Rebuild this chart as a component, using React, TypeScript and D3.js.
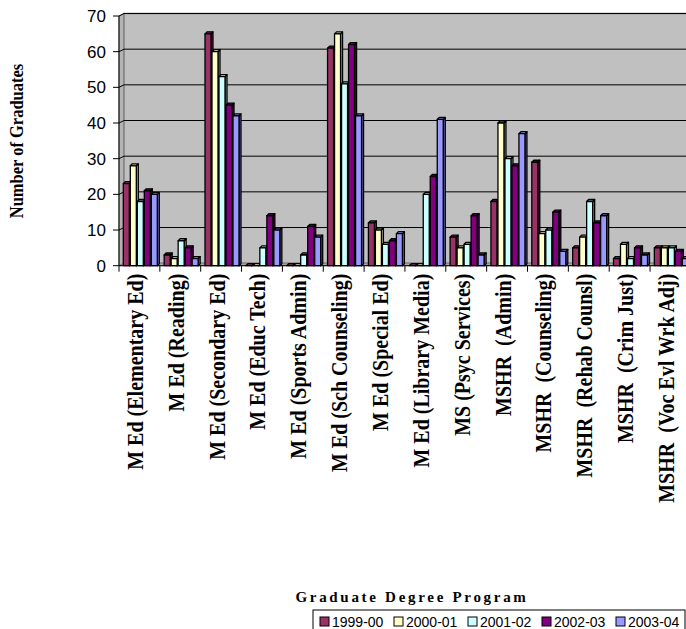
import React from 'react';
import * as d3 from 'd3';

const programs = [
  'M Ed (Elementary Ed)', 'M Ed (Reading)', 'M Ed (Secondary Ed)', 'M Ed (Educ Tech)',
  'M Ed (Sports Admin)', 'M Ed (Sch Counseling)', 'M Ed (Special Ed)', 'M Ed (Library Media)',
  'MS (Psyc Services)', 'MSHR  (Admin)', 'MSHR  (Counseling)', 'MSHR  (Rehab Counsl)',
  'MSHR  (Crim Just)', 'MSHR  (Voc Evl Wrk Adj)',
];
const years = ['1999-00', '2000-01', '2001-02', '2002-03', '2003-04'];
const grads1999 = [23, 3, 65, 0, 0, 61, 12, 0, 8, 18, 29, 5, 2, 5];
const grads2000 = [28, 2, 60, 0, 0, 65, 10, 0, 5, 40, 9, 8, 6, 5];
const grads2001 = [18, 7, 53, 5, 3, 51, 6, 20, 6, 30, 10, 18, 2, 5];
const grads2002 = [21, 5, 45, 14, 11, 62, 7, 25, 14, 28, 15, 12, 5, 4];
const grads2003 = [20, 2, 42, 10, 8, 42, 9, 41, 3, 37, 4, 14, 3, 2];
const yTickValues = [0, 10, 20, 30, 40, 50, 60, 70];

const series = [grads1999, grads2000, grads2001, grads2002, grads2003];
const colors = ['#993366', '#ffffcc', '#ccffff', '#800080', '#9999ff'];

const W = 686;
const H = 629;
const serif = '"Liberation Serif", "Times New Roman", serif';
const sans = '"Liberation Sans", Arial, sans-serif';

export default function App() {
  const left = 119;
  const x = d3.scaleBand().domain(programs).range([left, left + programs.length * 40.85]);
  const xs = d3.scaleBand().domain(years).range([4.3, 39.3]);
  const y = d3.scaleLinear().domain([0, 70]).range([265.7, 16]);
  const y0 = y(0);
  const right = x.range()[1];
  // wall depth
  const dx = 5, dy = -2.5;
  const bw = xs.bandwidth() - 1;
  const bd = 2;

  return (
    <svg width={W} height={H} style={{ position: 'absolute', left: 0, top: 0, background: '#fff' }}>
      {/* walls */}
      <polygon points={`${left},${y0} ${left},${y(70)} ${left + dx},${y(70) + dy} ${left + dx},${y0 + dy}`}
        fill="#b4b4b4" stroke="#808080" />
      <rect x={left + dx} y={y(70) + dy} width={right - left} height={y0 - y(70)} fill="#c0c0c0" stroke="#808080" strokeWidth={1.5} />
      <polygon points={`${left},${y0} ${left + dx},${y0 + dy} ${right + dx},${y0 + dy} ${right},${y0}`}
        fill="#a8a8a8" stroke="#808080" />
      {yTickValues.filter(v => v > 0).map(v => (
        <g key={v}>
          <line x1={left} x2={left + dx} y1={y(v)} y2={y(v) + dy} stroke="#000" />
          <line x1={left + dx} x2={right + dx} y1={y(v) + dy} y2={y(v) + dy} stroke="#000" />
        </g>
      ))}

      {/* bars */}
      {programs.map((p, i) => (
        <g key={p}>
          {series.map((s, j) => {
            const bx = x(p)! + xs(years[j])!;
            const by = y(s[i]);
            const c = d3.color(colors[j])!;
            return (
              <g key={j} stroke="#000" strokeWidth={1.3} strokeLinejoin="round">
                <polygon points={`${bx + bw},${by} ${bx + bw + bd},${by - bd} ${bx + bw + bd},${y0 - bd} ${bx + bw},${y0}`}
                  fill={c.darker(0.9).toString()} />
                <polygon points={`${bx},${by} ${bx + bd},${by - bd} ${bx + bw + bd},${by - bd} ${bx + bw},${by}`}
                  fill={c.darker(0.4).toString()} />
                <rect x={bx} y={by} width={bw} height={y0 - by} fill={colors[j]} />
              </g>
            );
          })}
        </g>
      ))}

      {/* axes */}
      <line x1={left} x2={left} y1={y(70)} y2={y0} stroke="#000" />
      <line x1={left} x2={right} y1={y0} y2={y0} stroke="#000" />
      {yTickValues.map(v => (
        <g key={v}>
          <line x1={left - 6} x2={left} y1={y(v)} y2={y(v)} stroke="#000" />
          <text x={left - 13} y={y(v)} dy="0.35em" textAnchor="end" fontFamily={sans} fontSize={17}>{v}</text>
        </g>
      ))}
      {programs.map(p => (
        <line key={p} x1={x(p)!} x2={x(p)!} y1={y0} y2={y0 + 6} stroke="#000" />
      ))}
      {programs.map(p => (
        <text key={p} transform={`translate(${x(p)! + x.bandwidth() / 2 - 3},${y0 + 8}) rotate(-90) scale(1,1.15)`}
          dy="0.28em" textAnchor="end" fontFamily={serif} fontWeight="bold" fontSize={20}
          style={{ whiteSpace: 'pre' }}>{p}</text>
      ))}

      <text transform={`translate(23,141) rotate(-90) scale(1,1.1)`} textAnchor="middle" fontFamily={serif}
        fontWeight="bold" fontSize={16.5}>Number of Graduates</text>
      <text x={412} y={602} textAnchor="middle" fontFamily={serif} fontWeight="bold" fontSize={15}
        letterSpacing={2.7}>Graduate Degree Program</text>

      {/* legend */}
      <rect x={313} y={610} width={372} height={30} fill="#fff" stroke="#000" />
      {years.map((yr, j) => {
        const tx = 332 + j * 74;
        return (
          <g key={yr}>
            <rect x={tx - 12} y={617} width={9} height={9} fill={colors[j]} stroke="#000" />
            <text x={tx} y={627} fontFamily={sans} fontSize={14}>{yr}</text>
          </g>
        );
      })}
    </svg>
  );
}
